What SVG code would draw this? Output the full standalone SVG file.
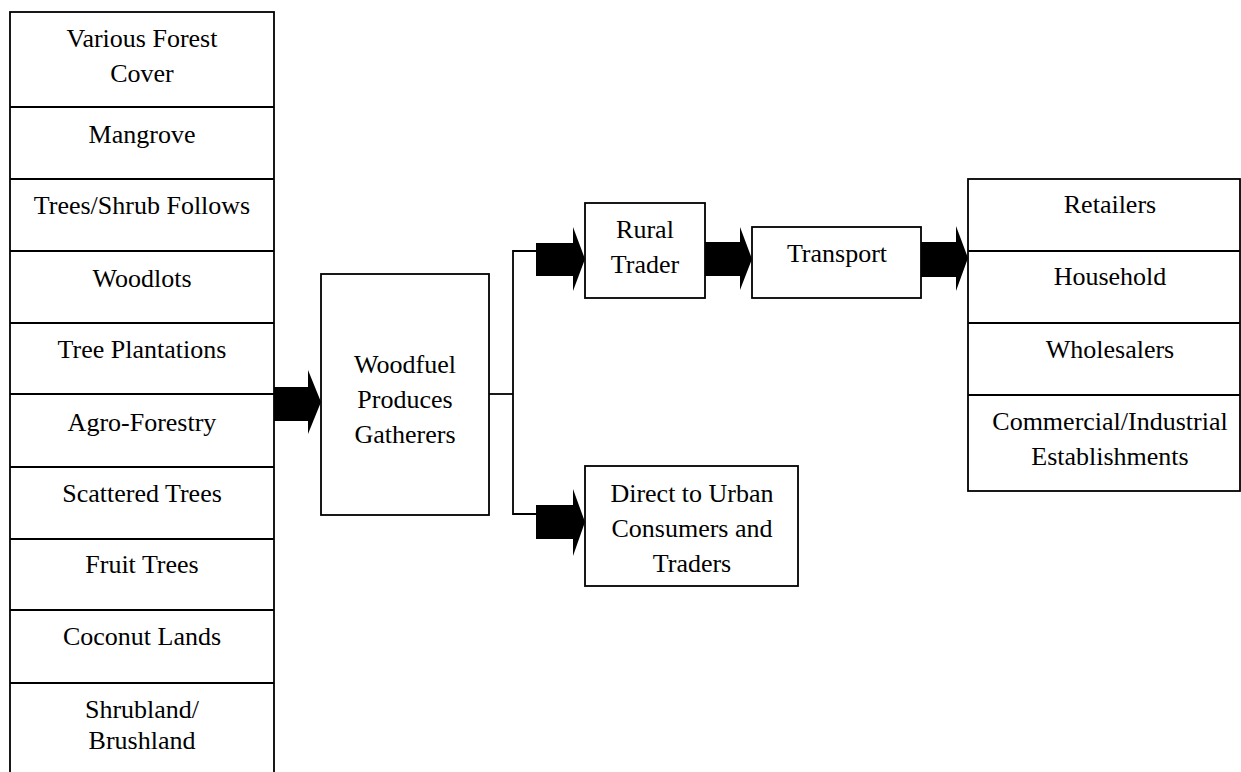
<svg xmlns="http://www.w3.org/2000/svg" width="1241" height="772" viewBox="0 0 1241 772">
<style>
.box{fill:#fff;stroke:#000;stroke-width:1.8}
.ln{fill:none;stroke:#000;stroke-width:1.8}
.arr{fill:#000;stroke:none}
text{font-family:"Liberation Serif","Times New Roman",serif;font-size:26px;fill:#000;text-anchor:middle}
</style>
<rect width="1241" height="772" fill="#fff"/>
<g id="sources">
<rect class="box" x="10" y="12" width="264" height="780"/>
<g class="ln">
<line x1="10" y1="107" x2="274" y2="107"/>
<line x1="10" y1="179" x2="274" y2="179"/>
<line x1="10" y1="251" x2="274" y2="251"/>
<line x1="10" y1="323" x2="274" y2="323"/>
<line x1="10" y1="394" x2="274" y2="394"/>
<line x1="10" y1="467" x2="274" y2="467"/>
<line x1="10" y1="539" x2="274" y2="539"/>
<line x1="10" y1="610" x2="274" y2="610"/>
<line x1="10" y1="683" x2="274" y2="683"/>
</g>
<g id="src-various"><text x="142" y="47">Various Forest</text><text x="142" y="82">Cover</text></g>
<g id="src-mangrove"><text x="142" y="143">Mangrove</text></g>
<g id="src-trees-shrub"><text x="142" y="214">Trees/Shrub Follows</text></g>
<g id="src-woodlots"><text x="142" y="287">Woodlots</text></g>
<g id="src-plantations"><text x="142" y="358">Tree Plantations</text></g>
<g id="src-agro"><text x="142" y="431">Agro-Forestry</text></g>
<g id="src-scattered"><text x="142" y="502">Scattered Trees</text></g>
<g id="src-fruit"><text x="142" y="573">Fruit Trees</text></g>
<g id="src-coconut"><text x="142" y="645">Coconut Lands</text></g>
<g id="src-shrubland"><text x="142" y="718">Shrubland/</text><text x="142" y="749">Brushland</text></g>
</g>
<g id="woodfuel">
<rect class="box" x="321" y="274" width="168" height="241"/>
<text x="405" y="373">Woodfuel</text>
<text x="405" y="408">Produces</text>
<text x="405" y="443">Gatherers</text>
</g>
<g id="rural-trader">
<rect class="box" x="585" y="203" width="120" height="95"/>
<text x="645" y="238">Rural</text>
<text x="645" y="273">Trader</text>
</g>
<g id="transport">
<rect class="box" x="752" y="227" width="169" height="71"/>
<text x="837" y="262">Transport</text>
</g>
<g id="direct">
<rect class="box" x="585" y="466" width="213" height="120"/>
<text x="692" y="502">Direct to Urban</text>
<text x="692" y="537">Consumers and</text>
<text x="692" y="572">Traders</text>
</g>
<g id="consumers">
<rect class="box" x="968" y="179" width="272" height="312"/>
<g class="ln">
<line x1="968" y1="251" x2="1240" y2="251"/>
<line x1="968" y1="323" x2="1240" y2="323"/>
<line x1="968" y1="395" x2="1240" y2="395"/>
</g>
<g id="c-retailers"><text x="1110" y="213">Retailers</text></g>
<g id="c-household"><text x="1110" y="285">Household</text></g>
<g id="c-wholesalers"><text x="1110" y="358">Wholesalers</text></g>
<g id="c-commercial"><text x="1110" y="430">Commercial/Industrial</text><text x="1110" y="465">Establishments</text></g>
</g>
<g id="connectors">
<polyline class="ln" points="489,394 513,394"/>
<polyline class="ln" points="536,251 513,251 513,514 536,514"/>
<polygon class="arr" points="274,387 308,387 308,370 321,402 308,434 308,421 274,421"/>
<polygon class="arr" points="536,243 573,243 573,227 585,259 573,291 573,276 536,276"/>
<polygon class="arr" points="705,242 740,242 740,227 752,259 740,290 740,276 705,276"/>
<polygon class="arr" points="921,242 956,242 956,226 968,258 956,291 956,277 921,277"/>
<polygon class="arr" points="536,505 573,505 573,489 585,522 573,556 573,539 536,539"/>
</g>
</svg>
